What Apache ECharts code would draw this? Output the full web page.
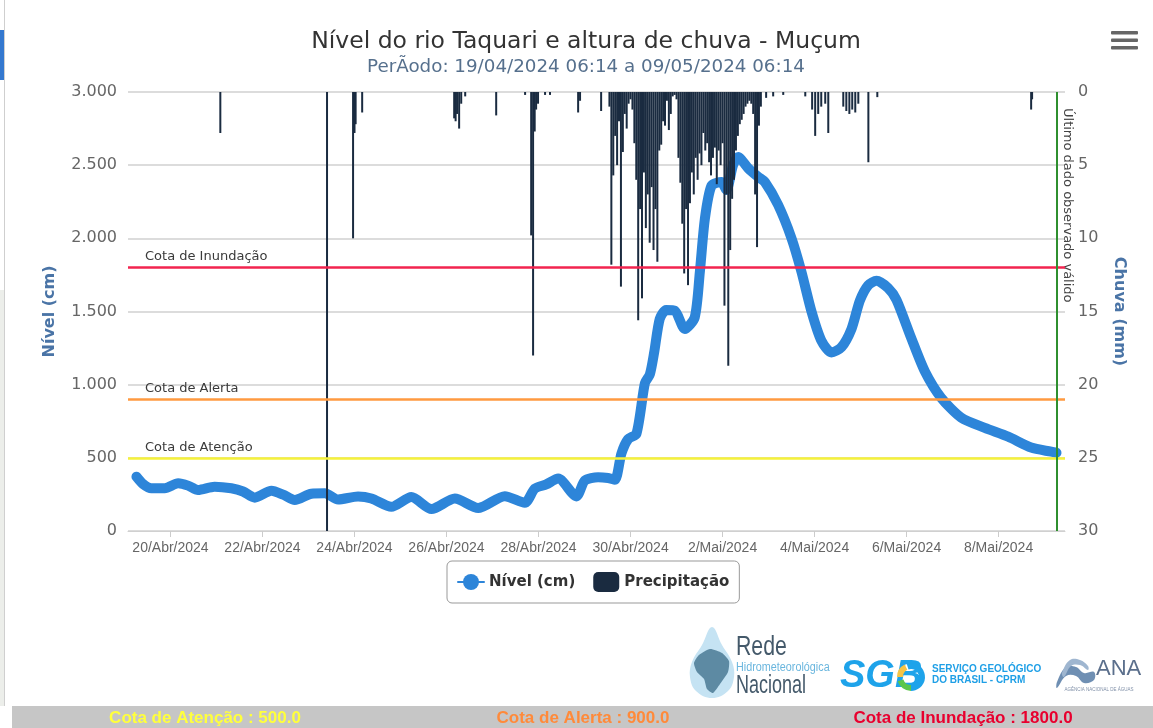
<!DOCTYPE html>
<html><head><meta charset="utf-8">
<script src="https://cdn.jsdelivr.net/npm/echarts@6/dist/echarts.min.js"></script>
<style>html,body{margin:0;padding:0;background:#fff;overflow:hidden}#c{width:1153px;height:728px}</style>
</head><body><div id="c"></div>
<script>
// ---------- DATA ----------
const levelTimes = ['2024-04-19T06:14','2024-04-19T09:40','2024-04-19T14:00','2024-04-19T21:00','2024-04-20T04:00','2024-04-20T09:10','2024-04-20T14:20','2024-04-20T23:00','2024-04-21T07:45','2024-04-21T13:50','2024-04-21T20:00','2024-04-22T04:40','2024-04-22T10:45','2024-04-22T16:50','2024-04-23T01:30','2024-04-23T08:30','2024-04-23T15:25','2024-04-24T01:50','2024-04-24T08:50','2024-04-24T19:15','2024-04-25T05:40','2024-04-25T16:10','2024-04-26T04:20','2024-04-26T16:30','2024-04-27T06:25','2024-04-27T16:50','2024-04-27T22:05','2024-04-28T04:00','2024-04-28T10:15','2024-04-28T19:45','2024-04-29T00:10','2024-04-29T07:05','2024-04-29T12:20','2024-04-29T15:50','2024-04-29T19:15','2024-04-29T22:45','2024-04-30T03:05','2024-04-30T07:30','2024-04-30T10:05','2024-04-30T12:20','2024-04-30T15:15','2024-04-30T18:35','2024-04-30T23:05','2024-05-01T04:20','2024-05-01T09:30','2024-05-01T12:10','2024-05-01T14:45','2024-05-01T18:15','2024-05-01T23:25','2024-05-02T02:00','2024-05-02T05:30','2024-05-02T08:10','2024-05-02T13:20','2024-05-02T18:35','2024-05-02T22:05','2024-05-03T05:00','2024-05-03T12:00','2024-05-03T17:10','2024-05-03T22:25','2024-05-04T03:35','2024-05-04T08:50','2024-05-04T14:00','2024-05-04T19:15','2024-05-04T23:40','2024-05-05T04:00','2024-05-05T08:20','2024-05-05T14:25','2024-05-05T18:45','2024-05-06T02:25','2024-05-06T09:35','2024-05-06T18:05','2024-05-07T04:30','2024-05-07T16:50','2024-05-08T05:00','2024-05-08T17:00','2024-05-09T03:25','2024-05-09T06:14'];
const levelValues = [371,321,292,292,326,310,280,303,292,270,228,275,248,212,255,258,215,236,222,165,232,150,222,157,238,193,290,318,358,236,345,368,362,350,530,628,665,1010,1070,1220,1450,1510,1505,1380,1460,1770,2130,2360,2385,2330,2500,2555,2480,2420,2385,2228,2000,1772,1500,1300,1220,1255,1380,1575,1680,1710,1660,1580,1320,1090,910,775,705,645,570,542,535];

const precipTimes = ['2024-04-21T02:00','2024-04-23T09:40','2024-04-23T23:15','2024-04-24T00:00','2024-04-24T00:35','2024-04-24T04:00','2024-04-26T04:00','2024-04-26T04:45','2024-04-26T05:30','2024-04-26T06:35','2024-04-26T07:40','2024-04-26T09:45','2024-04-27T01:55','2024-04-27T17:00','2024-04-27T20:10','2024-04-27T21:10','2024-04-27T22:00','2024-04-27T22:45','2024-04-27T23:45','2024-04-28T03:25','2024-04-28T06:00','2024-04-28T20:40','2024-04-28T21:40','2024-04-29T08:40',
'2024-04-29T13:00','2024-04-29T14:00','2024-04-29T15:00','2024-04-29T16:00','2024-04-29T17:00','2024-04-29T18:00','2024-04-29T19:00','2024-04-29T20:00','2024-04-29T21:00','2024-04-29T22:00','2024-04-29T23:00',
'2024-04-30T00:00','2024-04-30T01:00','2024-04-30T02:00','2024-04-30T03:00','2024-04-30T04:00','2024-04-30T05:00','2024-04-30T06:00','2024-04-30T07:00','2024-04-30T08:00','2024-04-30T09:00','2024-04-30T10:00','2024-04-30T11:00','2024-04-30T12:00','2024-04-30T13:00','2024-04-30T14:00','2024-04-30T15:00','2024-04-30T16:00','2024-04-30T17:00','2024-04-30T18:00','2024-04-30T19:00','2024-04-30T20:00','2024-04-30T21:00','2024-04-30T22:00','2024-04-30T23:00',
'2024-05-01T00:00','2024-05-01T01:00','2024-05-01T02:00','2024-05-01T03:00','2024-05-01T04:00','2024-05-01T05:00','2024-05-01T06:00','2024-05-01T07:00','2024-05-01T08:00','2024-05-01T09:00','2024-05-01T10:00','2024-05-01T11:00','2024-05-01T12:00','2024-05-01T13:00','2024-05-01T14:00','2024-05-01T15:00','2024-05-01T16:00','2024-05-01T17:00','2024-05-01T18:00','2024-05-01T19:00','2024-05-01T20:00','2024-05-01T21:00','2024-05-01T22:00','2024-05-01T23:00',
'2024-05-02T00:00','2024-05-02T01:00','2024-05-02T02:00','2024-05-02T03:00','2024-05-02T04:00','2024-05-02T05:00','2024-05-02T06:00','2024-05-02T07:00','2024-05-02T08:00','2024-05-02T09:00','2024-05-02T10:00','2024-05-02T11:00','2024-05-02T12:00','2024-05-02T13:00','2024-05-02T14:00','2024-05-02T15:00','2024-05-02T16:00','2024-05-02T17:00','2024-05-02T18:00','2024-05-02T19:00','2024-05-02T20:00',
'2024-05-02T22:45','2024-05-03T02:25','2024-05-03T07:40','2024-05-03T19:10','2024-05-03T22:45','2024-05-04T00:20','2024-05-04T01:55','2024-05-04T03:30','2024-05-04T05:35','2024-05-04T07:10','2024-05-04T15:00','2024-05-04T16:35','2024-05-04T18:10','2024-05-04T19:40','2024-05-04T21:15','2024-05-04T22:50','2024-05-05T04:05','2024-05-05T08:45','2024-05-08T17:00','2024-05-08T17:30'];
const precipValues = [2.8,30,10.0,2.8,2.2,1.4,1.8,2.0,1.5,2.5,0.8,0.3,1.6,0.2,9.8,18.0,2.7,1.2,0.8,0.2,0.2,1.4,0.6,1.3,
1.0,11.8,5.7,3.0,5.0,2.0,13.3,4.1,1.5,2.5,0.8,
0.5,1.2,3.5,6.0,15.6,8.0,14.1,5.5,9.3,7.0,10.3,6.5,10.8,8.0,11.6,4.0,3.6,2.0,2.3,0.6,2.6,1.5,0.3,0.2,
0.5,4.5,6.2,9.0,12.4,8.0,13.2,7.6,5.5,7.0,4.5,6.0,4.2,5.0,2.8,4.0,3.5,4.8,5.7,4.5,3.8,6.3,4.0,5.0,
3.5,14.6,7.0,18.7,10.8,7.3,6.0,4.0,3.0,2.2,1.9,1.5,1.0,0.8,0.6,0.8,1.5,7.0,10.6,2.3,1.0,
0.4,0.3,0.2,0.3,1.2,3.0,1.5,1.0,0.8,2.8,1.0,1.3,1.5,1.2,1.4,0.8,4.8,0.35,1.2,0.5];

const xTickDates = ['2024-04-20T00:00','2024-04-22T00:00','2024-04-24T00:00','2024-04-26T00:00','2024-04-28T00:00','2024-04-30T00:00','2024-05-02T00:00','2024-05-04T00:00','2024-05-06T00:00','2024-05-08T00:00'];
const monthNames = ['Jan','Fev','Mar','Abr','Mai','Jun','Jul','Ago','Set','Out','Nov','Dez'];
const xRange = ['2024-04-19T01:50','2024-05-09T10:40'];
const lastValidTime = '2024-05-09T06:14';

const thresholdNames = ['Cota de Atenção','Cota de Alerta','Cota de Inundação'];
const thresholdValues = [500, 900, 1800];
const thresholdColors = ['#f6f23a','#ff9a40','#f2244f'];
const footerColors = ['#ffff3c','#ff8a3a','#e8002e'];

// ---------- BUILD ----------
const T = s => new Date(s).getTime();
const levelData = levelTimes.map((t,i)=>[T(t), levelValues[i]]);
const precipData = precipTimes.map((t,i)=>[T(t), precipValues[i]]);
const tickVals = xTickDates.map(T);
const thousands = v => String(v).replace(/\B(?=(\d{3})+(?!\d))/g,'.');
const F = '"DejaVu Sans", Verdana, sans-serif';
const NARROW = '"Liberation Sans Narrow", "Liberation Sans", Arial, sans-serif';

const chart = echarts.init(document.getElementById('c'), null, {renderer:'canvas'});

const option = {
  animation:false,
  backgroundColor:'#fff',
  title:{
    text:'Nível do rio Taquari e altura de chuva - Muçum',
    subtext:'PerÃodo: 19/04/2024 06:14 a 09/05/2024 06:14',
    left:581, top:25, textAlign:'center', itemGap:4,
    textStyle:{fontFamily:F, fontSize:23.5, fontWeight:'normal', color:'#333'},
    subtextStyle:{fontFamily:F, fontSize:18.3, color:'#56708d'}
  },
  grid:{left:128, right:88, top:92, bottom:197, containLabel:false},
  legend:{
    left:447, top:561, padding:[11,10,11,10], itemGap:18,
    borderColor:'#999', borderWidth:1, borderRadius:5,
    itemWidth:26, itemHeight:20,
    textStyle:{fontFamily:F, fontSize:15, fontWeight:'bold', color:'#333'},
    data:[
      {name:'Nível (cm)'},
      {name:'Precipitação', icon:'roundRect'}
    ]
  },
  xAxis:{
    type:'value', min:T(xRange[0]), max:T(xRange[1]),
    axisLine:{show:true, lineStyle:{color:'#d0d0d0', width:1}},
    axisTick:{show:true, customValues:tickVals, length:6, lineStyle:{color:'#ccc'}},
    axisLabel:{customValues:tickVals, margin:10, color:'#666', fontFamily:NARROW, fontSize:14,
      formatter:v=>{const d=new Date(v);return d.getDate()+'/'+monthNames[d.getMonth()]+'/'+d.getFullYear();}},
    splitLine:{show:false}
  },
  yAxis:[
    {type:'value', min:0, max:3000, interval:500, position:'left',
     name:'Nível (cm)', nameLocation:'middle', nameGap:70,
     nameTextStyle:{fontFamily:F, fontSize:16, fontWeight:'bold', color:'#4a74a6'},
     axisLine:{show:false}, axisTick:{show:false},
     axisLabel:{margin:11, color:'#666', fontFamily:F, fontSize:16, formatter:v=>thousands(v)},
     splitLine:{show:true, lineStyle:{color:'#dcdcdc', width:2}}},
    {type:'value', min:0, max:30, interval:5, inverse:true, position:'right',
     name:'Chuva (mm)', nameLocation:'middle', nameGap:46, nameRotate:-90,
     nameTextStyle:{fontFamily:F, fontSize:16, fontWeight:'bold', color:'#4a74a6'},
     axisLine:{show:false}, axisTick:{show:false},
     axisLabel:{margin:13, color:'#666', fontFamily:F, fontSize:16},
     splitLine:{show:false}}
  ],
  series:[
    {name:'Nível (cm)', type:'line', yAxisIndex:0, data:levelData, z:2,
     smooth:0.25, symbol:'circle', symbolSize:9, showSymbol:false,
     color:'#2d85d9',
     lineStyle:{width:10, color:'#2d85d9', cap:'round', join:'round'},
     markLine:{
       silent:true, symbol:['none','none'], z:5,
       data: thresholdValues.map((v,i)=>({
         yAxis:v, name:thresholdNames[i],
         lineStyle:{color:thresholdColors[i], width:2.5, type:'solid'},
         label:{show:true, formatter:thresholdNames[i], position:'insideStartTop', distance:[17,4],
                color:'#3a3a3a', fontFamily:F, fontSize:13}
       })).concat([{xAxis:T(lastValidTime), lineStyle:{color:'#2f8f2f', width:2, type:'solid'}, label:{show:false}}])
     }},
    {name:'Precipitação', type:'bar', yAxisIndex:1, data:precipData, z:3,
     barWidth:2, color:'#1a2b40', itemStyle:{color:'#1a2b40'}}
  ]
};
chart.setOption(option);

// decorations / text placed after layout
const lx = chart.convertToPixel({xAxisIndex:0}, T(lastValidTime));
const topY = chart.convertToPixel({yAxisIndex:0}, 3000);
const footerX = [205, 583, 963];
const g = [
  {type:'text', x:lx+11, y:topY+16, rotation:-Math.PI/2,
   style:{text:'Último dado observado válido', fill:'#444', font:'13px '+F, textAlign:'left', textVerticalAlign:'middle'}},
  {type:'rect', shape:{x:1111,y:31,width:27,height:3.5,r:1}, style:{fill:'#666'}},
  {type:'rect', shape:{x:1111,y:38.5,width:27,height:3.5,r:1}, style:{fill:'#666'}},
  {type:'rect', shape:{x:1111,y:46,width:27,height:3.5,r:1}, style:{fill:'#666'}},
  {type:'rect', shape:{x:0,y:30,width:5,height:50}, style:{fill:'#3478cf'}},
  {type:'rect', shape:{x:0,y:290,width:4,height:416}, style:{fill:'#eceeea'}},
  {type:'line', shape:{x1:4.5,y1:0,x2:4.5,y2:706}, style:{stroke:'#cfcfcf', lineWidth:1}},
  // Rede Hidrometeorológica Nacional
  {type:'polygon', shape:{smooth:0.4, points:[[712,627],[722,645],[732,662],[734,677],[728,691],[712,698],[696,691],[690,677],[692,662],[702,645]]}, style:{fill:'#c5e3f3'}},
  {type:'polygon', shape:{smooth:0.2, points:[[699,655],[710,649],[722,653],[729,661],[728,672],[720,684],[713,693],[707,689],[704,679],[697,672],[694,663]]}, style:{fill:'#5d8aa3'}},
  {type:'text', x:736, y:647, scaleX:0.76, style:{text:'Rede', fill:'#44596a', font:'28px '+NARROW, textVerticalAlign:'middle'}},
  {type:'text', x:736, y:668, scaleX:0.9, style:{text:'Hidrometeorológica', fill:'#6ab6de', font:'12px '+NARROW, textVerticalAlign:'middle'}},
  {type:'text', x:736, y:686, scaleX:0.72, style:{text:'Nacional', fill:'#44596a', font:'25px '+NARROW, textVerticalAlign:'middle'}},
  // SGB
  {type:'text', x:840, y:677, style:{text:'SGB', fill:'#1ea3ea', font:'italic bold 38px '+NARROW, textVerticalAlign:'middle'}},
  {type:'arc', shape:{cx:911,cy:677,r:11,startAngle:-Math.PI*0.6,endAngle:Math.PI*0.5}, style:{stroke:'#1ea3ea', lineWidth:6, fill:null}},
  {type:'arc', shape:{cx:911,cy:677,r:11,startAngle:Math.PI*0.5,endAngle:Math.PI*0.9}, style:{stroke:'#5cc64a', lineWidth:6, fill:null}},
  {type:'arc', shape:{cx:911,cy:677,r:11,startAngle:Math.PI*1.0,endAngle:Math.PI*1.35}, style:{stroke:'#f6c445', lineWidth:6, fill:null}},
  {type:'text', x:932, y:669, style:{text:'SERVIÇO GEOLÓGICO', fill:'#1e9fe6', font:'bold 10px "Liberation Sans", Arial', textVerticalAlign:'middle'}},
  {type:'text', x:932, y:680, style:{text:'DO BRASIL - CPRM', fill:'#1e9fe6', font:'bold 10px "Liberation Sans", Arial', textVerticalAlign:'middle'}},
  // ANA
  {type:'polygon', shape:{smooth:0.4, points:[[1057,682],[1066,667],[1076,667],[1084,673],[1094,672],[1094,680],[1084,683],[1076,676],[1066,676],[1057,688]]}, style:{fill:'#6f8fb3'}},
  {type:'polygon', shape:{smooth:0.4, points:[[1062,673],[1070,660],[1080,660],[1088,666],[1088,670],[1080,665],[1071,666],[1064,677]]}, style:{fill:'#9fb6d0'}},
  {type:'text', x:1096, y:669, style:{text:'ANA', fill:'#5b6f8c', font:'22px "Liberation Sans", Arial', textVerticalAlign:'middle'}},
  {type:'text', x:1099, y:690, style:{text:'AGÊNCIA NACIONAL DE ÁGUAS', fill:'#8090a8', font:'4.5px "Liberation Sans", Arial', textAlign:'center', textVerticalAlign:'middle'}},
  // footer bar
  {type:'rect', shape:{x:12,y:706,width:1141,height:22}, style:{fill:'#c6c6c6'}}
];
thresholdNames.forEach((n,i)=>{
  g.push({type:'text', x:footerX[i], y:718, style:{text: n+' : '+thresholdValues[i].toFixed(1), fill:footerColors[i], font:'bold 17px '+NARROW, textAlign:'center', textVerticalAlign:'middle'}});
});
chart.setOption({graphic:g});
</script></body></html>
